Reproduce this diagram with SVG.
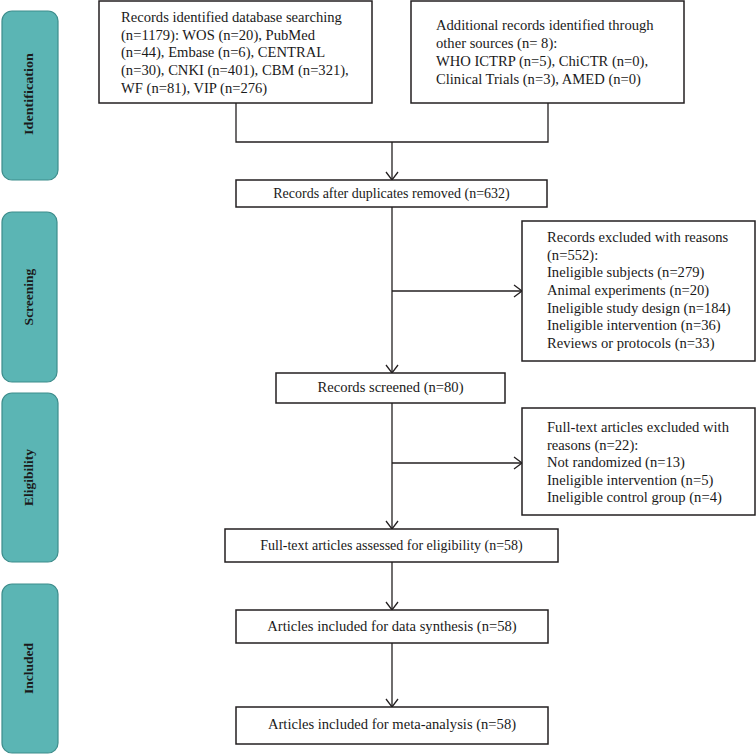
<svg xmlns="http://www.w3.org/2000/svg" width="756" height="755" viewBox="0 0 756 755">
<defs>
<style>
.box{fill:#fff;stroke:#231f20;stroke-width:1.5}
.side{fill:#5bb5b4;stroke:#3d8d8c;stroke-width:1.2}
.t{font-family:"Liberation Serif","Times New Roman",serif;font-size:14.6px;fill:#1a1a1a}
.s{font-size:14px}
.sd{font-family:"Liberation Serif","Times New Roman",serif;font-size:13.5px;font-weight:bold;fill:#1a1a1a;text-anchor:middle}
.c{text-anchor:middle}
.ln{fill:none;stroke:#231f20;stroke-width:1.3}
</style>
<marker id="arr" markerUnits="userSpaceOnUse" markerWidth="12" markerHeight="14" refX="9" refY="7" orient="auto">
<path d="M1,1 L9,7 L1,13" fill="none" stroke="#231f20" stroke-width="1.3"/>
</marker>
</defs>
<rect width="756" height="755" fill="#fff"/>

<g id="side-identification">
<rect class="side" x="2" y="11" width="56" height="169" rx="10"/>
<text class="sd" transform="translate(33,94) rotate(-90)" textLength="82" lengthAdjust="spacingAndGlyphs">Identification</text>
</g>
<g id="side-screening">
<rect class="side" x="2" y="212" width="55" height="170" rx="10"/>
<text class="sd" transform="translate(33,297) rotate(-90)">Screening</text>
</g>
<g id="side-eligibility">
<rect class="side" x="2" y="393" width="56" height="169" rx="10"/>
<text class="sd" transform="translate(33,477.5) rotate(-90)">Eligibility</text>
</g>
<g id="side-included">
<rect class="side" x="2" y="584" width="56" height="169" rx="10"/>
<text class="sd" transform="translate(33,668.5) rotate(-90)">Included</text>
</g>

<g id="connectors">
<polyline class="ln" points="236,103 236,142 548,142 548,103"/>
<line class="ln" x1="392" y1="142" x2="392" y2="180" marker-end="url(#arr)"/>
<line class="ln" x1="392" y1="207" x2="392" y2="373" marker-end="url(#arr)"/>
<line class="ln" x1="392" y1="291" x2="522" y2="291" marker-end="url(#arr)"/>
<line class="ln" x1="392" y1="403" x2="392" y2="529" marker-end="url(#arr)"/>
<line class="ln" x1="392" y1="463" x2="522" y2="463" marker-end="url(#arr)"/>
<line class="ln" x1="392" y1="562" x2="392" y2="610" marker-end="url(#arr)"/>
<line class="ln" x1="392" y1="643" x2="392" y2="707" marker-end="url(#arr)"/>
</g>

<g id="db-search">
<rect class="box" x="99" y="1" width="273" height="102"/>
<text class="t" x="121" y="22">Records identified database searching</text>
<text class="t" x="121" y="40">(n=1179): WOS (n=20), PubMed</text>
<text class="t" x="121" y="57">(n=44), Embase (n=6), CENTRAL</text>
<text class="t" x="121" y="75">(n=30), CNKI (n=401), CBM (n=321),</text>
<text class="t" x="121" y="93">WF (n=81), VIP (n=276)</text>
</g>

<g id="other-sources">
<rect class="box" x="411" y="1" width="273" height="102"/>
<text class="t" x="436" y="30">Additional records identified through</text>
<text class="t" x="436" y="48">other sources (n= 8):</text>
<text class="t" x="436" y="66">WHO ICTRP (n=5), ChiCTR (n=0),</text>
<text class="t" x="436" y="84">Clinical Trials (n=3), AMED (n=0)</text>
</g>

<g id="after-duplicates">
<rect class="box" x="236" y="180" width="311" height="27"/>
<text class="t s c" x="391.5" y="198">Records after duplicates removed (n=632)</text>
</g>

<g id="excluded-records">
<rect class="box" x="522" y="221" width="233" height="140"/>
<text class="t" x="547" y="242">Records excluded with reasons</text>
<text class="t" x="547" y="260">(n=552):</text>
<text class="t" x="547" y="277">Ineligible subjects (n=279)</text>
<text class="t" x="547" y="295">Animal experiments (n=20)</text>
<text class="t" x="547" y="313">Ineligible study design (n=184)</text>
<text class="t" x="547" y="330">Ineligible intervention (n=36)</text>
<text class="t" x="547" y="348">Reviews or protocols (n=33)</text>
</g>

<g id="records-screened">
<rect class="box" x="276" y="373" width="229" height="30"/>
<text class="t c" x="390.5" y="392">Records screened (n=80)</text>
</g>

<g id="excluded-fulltext">
<rect class="box" x="522" y="408" width="233" height="107"/>
<text class="t" x="547" y="432">Full-text articles excluded with</text>
<text class="t" x="547" y="450">reasons (n=22):</text>
<text class="t" x="547" y="467">Not randomized (n=13)</text>
<text class="t" x="547" y="485">Ineligible intervention (n=5)</text>
<text class="t" x="547" y="502">Ineligible control group (n=4)</text>
</g>

<g id="fulltext-assessed">
<rect class="box" x="225" y="529" width="333" height="33"/>
<text class="t s c" x="391.5" y="550">Full-text articles assessed for eligibility (n=58)</text>
</g>

<g id="data-synthesis">
<rect class="box" x="236" y="610" width="312" height="33"/>
<text class="t c" x="392" y="631">Articles included for data synthesis (n=58)</text>
</g>

<g id="meta-analysis">
<rect class="box" x="236" y="707" width="312" height="37"/>
<text class="t c" x="392" y="729">Articles included for meta-analysis (n=58)</text>
</g>
</svg>
